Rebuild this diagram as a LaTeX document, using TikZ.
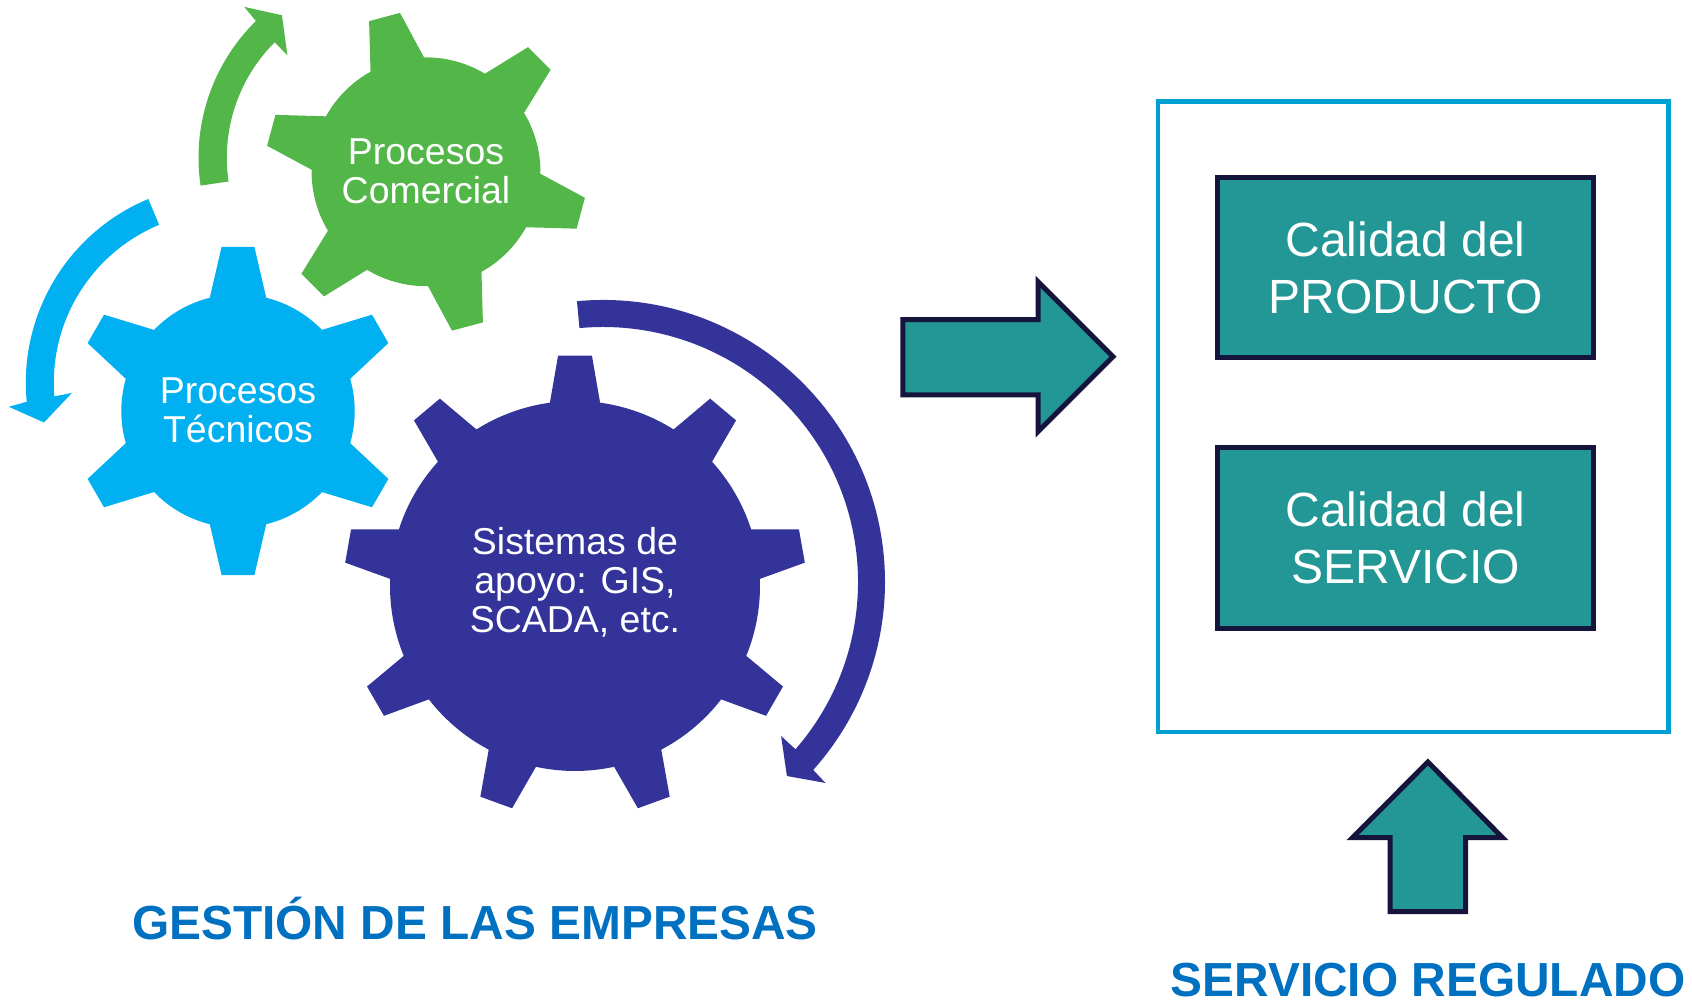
\documentclass[tikz,border=0pt]{standalone}
\usepackage{fontspec}
\setmainfont{Liberation Sans}
\usepackage{tikz}
\usetikzlibrary{shapes, arrows}

\definecolor{gearblue}{HTML}{00B0F0}
\definecolor{geargreen}{HTML}{52B748}
\definecolor{gearpurple}{HTML}{333399}
\definecolor{boxteal}{HTML}{239696}
\definecolor{boxline}{HTML}{14143C}
\definecolor{frameblue}{HTML}{00A0D0}
\definecolor{titleblue}{HTML}{0070C0}

\tikzset{
  geartext/.style={text=white, align=center, font=\fontsize{10.65}{11.1}\selectfont},
  qualitybox/.style={draw=boxline, line width=0.05cm, fill=boxteal, text=white, align=center,
    minimum width=3.76cm, minimum height=1.8cm, font=\fontsize{13.65}{16.4}\selectfont},
  blockarrow/.style={draw=boxline, line width=0.05cm, fill=boxteal, miter limit=20},
  titletext/.style={text=titleblue, inner sep=0pt, font=\fontsize{13.6}{16}\selectfont\bfseries}
}

% center, colour, body radius, tooth radius, teeth, first tooth, base and tip half angles
\newcommand{\drawgear}[8]{
  \fill[#2, shift={#1}] (#6-#7:#3)
    \foreach \k [evaluate=\k as \a using #6+(\k-1)*360/#5] in {1,...,#5} {
      -- (\a-#8:#4) -- (\a+#8:#4) -- (\a+#7:#3)
      arc[start angle=\a+#7, end angle=\a+360/#5-#7, radius=#3]
    } -- cycle;
}

\begin{document}
\begin{tikzpicture}[x=0.01cm, y=0.01cm]
\useasboundingbox (0,0) rectangle (1692,1001);

\drawgear{(238,590)}{gearblue}{116.7}{165}{6}{90}{14}{5.7}
\drawgear{(426,829.2)}{geargreen}{114.4}{161}{6}{105}{14}{5.7}
\drawgear{(575,415)}{gearpurple}{185}{231}{9}{90}{7.8}{4.2}

\coordinate (bluecenter) at (224.8,618.3);
\coordinate (greencenter) at (389.8,843.3);
\coordinate (purplecenter) at (603,419);

\fill[gearblue] ([shift={(112.6:199)}]bluecenter) arc[start angle=112.6, end angle=185.5, radius=199]
  -- (8.8,594.2) -- (44,578.5) -- (71.9,608) -- ([shift={(184.6:171)}]bluecenter)
  arc[start angle=184.6, end angle=112.6, radius=171] -- cycle;
\fill[geargreen] ([shift={(188.4:191.3)}]greencenter) arc[start angle=188.4, end angle=134.4, radius=191.3]
  -- (244.2,994.1) -- (282,985.7) -- (287.4,945.5) -- ([shift={(134.9:163)}]greencenter)
  arc[start angle=134.9, end angle=188.4, radius=163] -- cycle;
\fill[gearpurple] ([shift={(95.3:282)}]purplecenter) arc[start angle=95.3, end angle=-41.8, radius=282]
  -- (825.5,218) -- (786.9,225) -- (781.1,265) -- ([shift={(-41:255)}]purplecenter)
  arc[start angle=-41, end angle=95.3, radius=255] -- cycle;

\node[geartext] (tecnicos) at (238,590.4) {Procesos\\Técnicos};
\node[geartext] (comercial) at (426,829.5) {Procesos\\Comercial};
\node[geartext] (sistemas) at (575,419) {Sistemas de\\apoyo: GIS,\\SCADA, etc.};

\draw[blockarrow] (902.8,681.4) -- (1038,681.4) -- (1038,719.4) -- (1113,644.3)
  -- (1038,569.3) -- (1038,606.2) -- (902.8,606.2) -- cycle;
\draw[blockarrow] (1427.9,239) -- (1502.5,163.3) -- (1465.7,163.3) -- (1465.7,89.3)
  -- (1390,89.3) -- (1390,163.3) -- (1352.5,163.3) -- cycle;

\node[draw=frameblue, line width=0.045cm, minimum width=5.1cm, minimum height=6.303cm] (frame) at (1413.2,584.1) {};
\node[qualitybox] (producto) at (1405.6,733.2) {Calidad del\\PRODUCTO};
\node[qualitybox] (servicio) at (1405.6,463) {Calidad del\\SERVICIO};

\node[titletext] (gestion) at (475,82.5) {GESTIÓN DE LAS EMPRESAS};
\node[titletext] (regulado) at (1428,21) {SERVICIO REGULADO};
\end{tikzpicture}
\end{document}
